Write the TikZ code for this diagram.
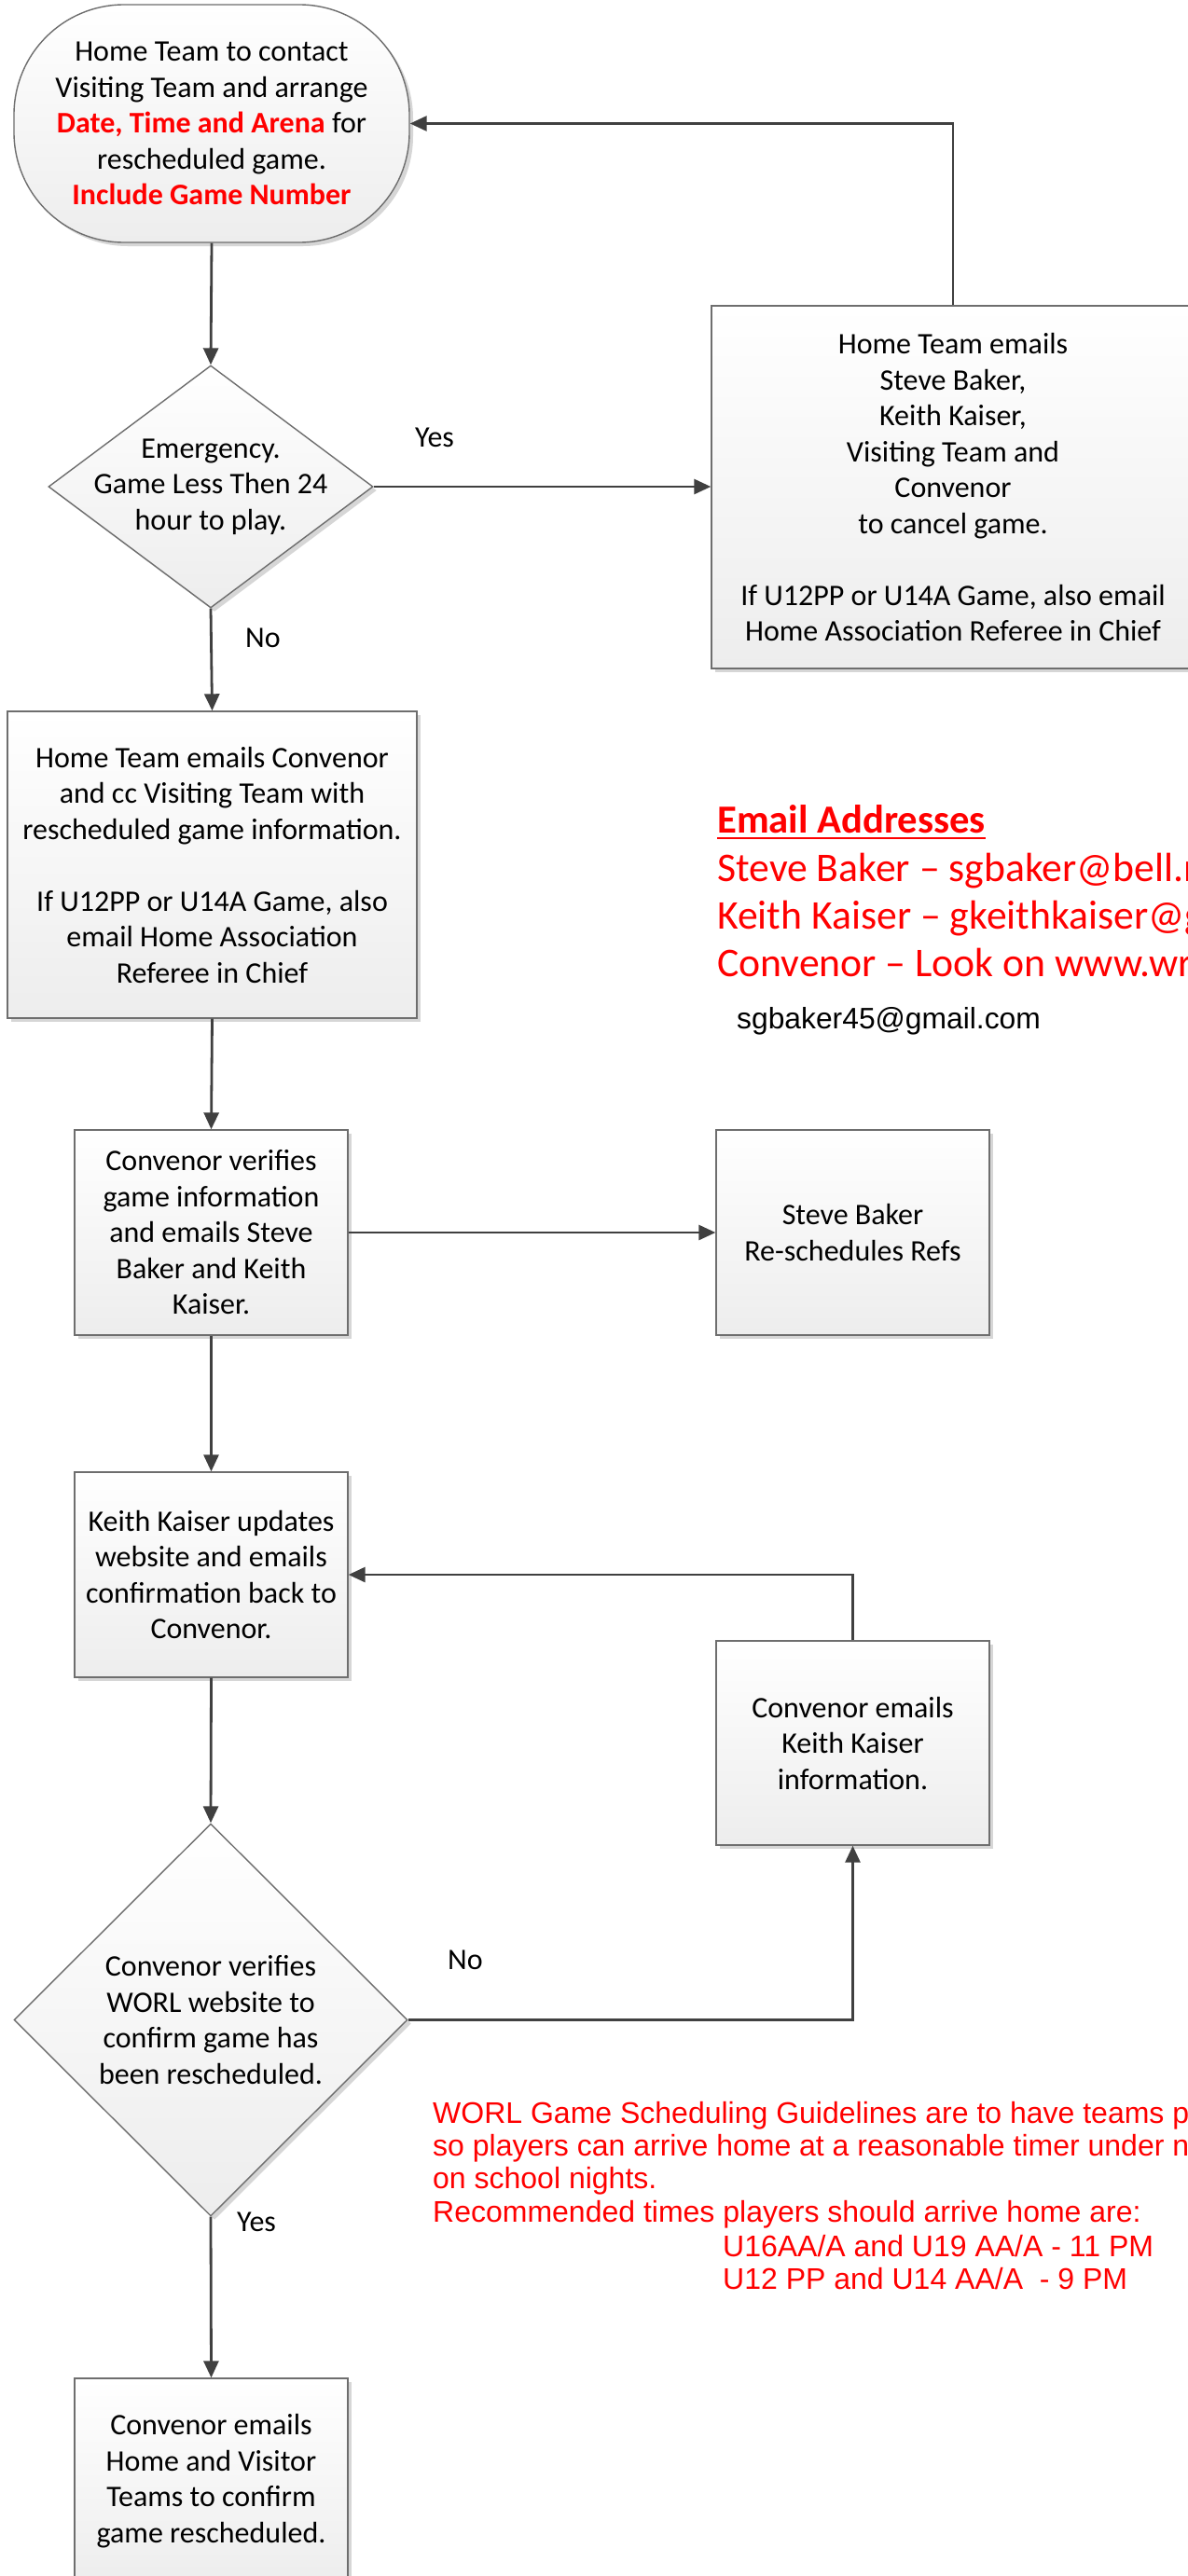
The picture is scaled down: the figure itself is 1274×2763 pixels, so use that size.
\documentclass[tikz,border=0pt]{standalone}
\usepackage{fontspec}
\setmainfont{Carlito}
\newfontfamily\arialfont{Liberation Sans}
\usetikzlibrary{arrows.meta,shapes.geometric,shadows}
\definecolor{linegray}{HTML}{404040}
\definecolor{bordergray}{HTML}{6E6E6E}
\definecolor{fillbottom}{HTML}{EDEDED}
\definecolor{shadowgray}{HTML}{D6D6D6}
\definecolor{redtext}{HTML}{FF0000}
\begin{document}
\begin{tikzpicture}[x=1pt,y=-1pt,
  every node/.style={font=\fontsize{32}{38.5}\selectfont, text=black},
  shapebase/.style={draw=bordergray, line width=1.4pt, top color=white, bottom color=fillbottom,
    drop shadow={shadow xshift=4pt, shadow yshift=-4pt, fill=shadowgray, opacity=1}},
  procbox/.style={shapebase, rectangle, align=center, inner sep=4pt},
  decision/.style={shapebase, diamond, inner sep=0pt},
  terminal/.style={shapebase, rectangle, rounded corners=118pt, align=center},
  conn/.style={draw=linegray, line width=2.8pt, -{Triangle[length=18pt,width=16pt]}},
  lbl/.style={anchor=base west, inner sep=0pt},
  mailtext/.style={anchor=base west, inner sep=0pt, text=redtext, font=\fontsize{43.7}{51}\selectfont},
  note/.style={anchor=base west, inner sep=0pt, text=redtext, font=\arialfont\fontsize{32}{35.7}\selectfont},
]
\fill[white] (0,0) rectangle (1274,2763);
\useasboundingbox (0,0) rectangle (1274,2763);

% main flow
\node[terminal, minimum width=424pt, minimum height=255pt] (start) at (227,132.5)
  {Home Team to contact\\ Visiting Team and arrange\\
   \textcolor{redtext}{\bfseries Date, Time and Arena} for\\ rescheduled game.\\
   \textcolor{redtext}{\bfseries Include Game Number}};

\node[decision, minimum width=348pt, minimum height=260pt] (d1) at (226,522) {};
\node[align=center, inner sep=0pt] (d1t) at (d1.center) {Emergency.\\ Game Less Then 24\\ hour to play.};

\node[procbox, minimum width=518pt, minimum height=389pt] (cancel) at (1022,522.5)
  {Home Team emails\\ Steve Baker,\\ Keith Kaiser,\\ Visiting Team and\\ Convenor\\ to cancel game.\\[38.5pt]
   If U12PP or U14A Game, also email\\ Home Association Referee in Chief};

\node[procbox, minimum width=439pt, minimum height=329pt] (b2) at (227.5,927.5)
  {Home Team emails Convenor\\ and cc Visiting Team with\\ rescheduled game information.\\[38.5pt]
   If U12PP or U14A Game, also\\ email Home Association\\ Referee in Chief};

\node[procbox, minimum width=293pt, minimum height=220pt] (b3) at (226.5,1322)
  {Convenor verifies\\ game information\\ and emails Steve\\ Baker and Keith\\ Kaiser.};

\node[procbox, minimum width=293pt, minimum height=220pt] (b4) at (914.5,1322)
  {Steve Baker\\ Re-schedules Refs};

\node[procbox, minimum width=293pt, minimum height=220pt] (b5) at (226.5,1689)
  {Keith Kaiser updates\\ website and emails\\ confirmation back to\\ Convenor.};

\node[procbox, minimum width=293pt, minimum height=219pt] (b6) at (914.5,1869.5)
  {Convenor emails\\ Keith Kaiser\\ information.};

\node[decision, minimum width=422pt, minimum height=421pt] (d2) at (226,2166.5) {};
\node[align=center, inner sep=0pt] (d2t) at (d2.center)
  {Convenor verifies\\ WORL website to\\ confirm game has\\ been rescheduled.};

\node[procbox, minimum width=293pt, minimum height=220pt] (b7) at (226.5,2661)
  {Convenor emails\\ Home and Visitor\\ Teams to confirm\\ game rescheduled.};

% connectors
\draw[conn] (start.south) -- (d1.north);
\draw[conn] (d1.east) -- (d1.east -| cancel.west);
\draw[conn] (cancel.north) |- (start.east);
\draw[conn] (d1.south) -- (b2.north);
\draw[conn] (b2.south) -- (b3.north);
\draw[conn] (b3.east) -- (b4.west);
\draw[conn] (b3.south) -- (b5.north);
\draw[conn] (b6.north) |- (b5.east);
\draw[conn] (b5.south) -- (d2.north);
\draw[conn] (d2.east) -| (b6.south);
\draw[conn] (d2.south) -- (b7.north);

% connector labels
\node[lbl] (yes1) at (445,479) {Yes};
\node[lbl] (no1) at (263,694) {No};
\node[lbl] (no2) at (480,2112) {No};
\node[lbl] (yes2) at (254,2393) {Yes};

% email block
\node[mailtext, font=\bfseries\fontsize{42.7}{51}\selectfont] (mailhead) at (769,893) {Email Addresses};
\draw[redtext, line width=2.5pt] ([yshift=-6pt]mailhead.base west) -- ([yshift=-6pt]mailhead.base east);
\node[mailtext] (mail1) at (769,945) {Steve Baker – sgbaker@bell.n};
\node[mailtext] (mail2) at (769,996) {Keith Kaiser – gkeithkaiser@g};
\node[mailtext] (mail3) at (769,1047) {Convenor – Look on www.wr};
\node[lbl, font=\arialfont\fontsize{31.8}{36}\selectfont] (mail4) at (790,1103) {sgbaker45@gmail.com};

% guideline note
\node[note] (g1) at (464,2277) {WORL Game Scheduling Guidelines are to have teams p};
\node[note] (g2) at (464,2312) {so players can arrive home at a reasonable timer under n};
\node[note] (g3) at (464,2347) {on school nights.};
\node[note] (g4) at (464,2383) {Recommended times players should arrive home are:};
\node[note] (g5) at (775,2420) {U16AA/A and U19 AA/A - 11 PM};
\node[note] (g6) at (775,2455) {U12 PP and U14 AA/A\ \ - 9 PM};
\end{tikzpicture}
\end{document}
